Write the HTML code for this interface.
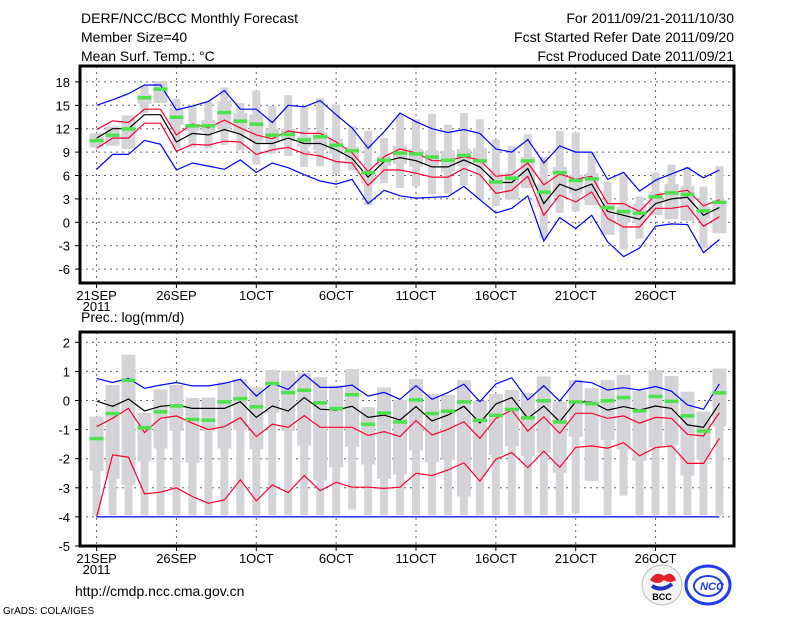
<!DOCTYPE html>
<html><head><meta charset="utf-8"><style>
body{margin:0;background:#fff}
svg{display:block}
text{font-family:"Liberation Sans",sans-serif;fill:#000}
</style></head><body>
<svg id="chart" width="800" height="618" viewBox="0 0 800 618">
<text x="81" y="23" font-size="14">DERF/NCC/BCC Monthly Forecast</text>
<text x="81" y="42" font-size="14">Member Size=40</text>
<text x="81" y="61" font-size="14">Mean Surf. Temp.: °C</text>
<text x="734" y="23" font-size="14" text-anchor="end">For 2011/09/21-2011/10/30</text>
<text x="734" y="42" font-size="14" text-anchor="end">Fcst Started Refer Date 2011/09/20</text>
<text x="734" y="61" font-size="14" text-anchor="end">Fcst Produced Date 2011/09/21</text>
<text x="81" y="322" font-size="14">Prec.: log(mm/d)</text>
<text x="75" y="596" font-size="14">http://cmdp.ncc.cma.gov.cn</text>
<text x="3" y="614" font-size="10">GrADS: COLA/IGES</text>
<g>
<circle cx="662" cy="585" r="20" fill="#f4f4f4" stroke="#bbb"/>
<path d="M650 580 q6 -10 14 -4 q8 -6 12 4 q-6 4 -12 0 q-6 6 -14 0z" fill="#e0202a"/>
<path d="M652 586 q10 6 20 -2" stroke="#2030c0" stroke-width="4" fill="none"/>
<text x="662" y="600" font-size="9" text-anchor="middle" font-weight="bold">BCC</text>
</g>
<g>
<ellipse cx="708" cy="585" rx="22" ry="19" fill="#fff" stroke="#1f3cf0" stroke-width="3"/>
<ellipse cx="708" cy="586" rx="14" ry="10" fill="none" stroke="#1f3cf0" stroke-width="2"/>
<text x="712" y="590" font-size="11" font-weight="bold" font-style="italic" text-anchor="middle" style="fill:#1f3cf0">NCC</text>
</g>
</svg>
<script>
const days = ["21SEP","26SEP","1OCT","6OCT","11OCT","16OCT","21OCT","26OCT"];
const tickDayIdx = [0,5,10,15,20,25,30,35];
const tTicks = [-6,-3,0,3,6,9,12,15,18];
const pTicks = [-5,-4,-3,-2,-1,0,1,2];
// Temperature panel
const tMax = [15.0,15.7,16.5,17.6,17.6,14.4,14.9,15.5,16.9,14.5,14.5,12.8,15.0,14.8,15.6,13.8,12.1,9.5,11.6,14.0,12.9,12.0,11.5,11.9,11.4,9.4,9.0,10.6,7.6,9.8,9.0,9.0,5.5,6.4,4.0,5.4,6.2,7.0,5.7,6.7];
const tUp = [11.9,13.0,12.8,14.5,14.5,11.2,12.6,12.1,13.1,12.1,11.2,10.7,11.7,11.4,11.4,10.3,8.9,6.5,8.4,9.4,8.9,7.9,7.9,8.4,8.0,5.9,6.1,7.6,4.8,6.2,5.5,5.9,2.4,2.4,1.4,3.5,3.8,4.1,2.1,2.9];
const tMean = [10.8,12.0,12.0,13.8,13.8,10.3,11.4,11.2,11.9,11.3,10.1,10.1,10.8,10.1,10.1,9.3,8.2,5.8,7.8,8.3,7.9,7.1,7.1,8.0,7.1,5.1,5.1,6.9,2.4,4.9,4.1,4.9,1.4,0.9,0.4,2.4,3.0,3.2,0.9,1.9];
const tLow = [9.5,10.8,10.8,12.7,12.7,9.1,10.0,9.9,10.4,10.3,8.7,9.3,9.6,8.8,8.5,7.8,7.6,4.7,6.7,6.7,6.3,5.8,5.8,6.9,6.1,3.7,4.1,5.9,0.9,3.5,2.6,3.9,0.5,-0.6,-0.6,1.8,1.8,2.1,-0.5,0.7];
const tMin = [6.8,8.7,8.7,10.5,10.0,6.7,7.6,7.2,6.8,8.0,6.4,7.6,7.0,6.1,5.3,4.9,5.5,2.4,4.1,3.4,3.1,3.2,3.3,4.6,2.9,1.2,1.8,3.4,-2.4,0.6,-0.8,0.9,-2.5,-4.4,-3.3,-0.5,-0.2,-0.3,-3.9,-2.2];
const tObs = [10.5,11.2,12.0,16.0,17.1,13.5,12.4,12.4,14.1,13.0,12.6,11.2,11.3,10.6,11.0,9.9,9.2,6.4,8.0,8.9,8.8,8.4,8.0,8.6,7.9,5.2,5.7,7.9,3.9,6.4,5.4,5.6,1.9,1.4,1.2,3.3,3.8,3.6,1.5,2.6];
const tBoxLo = [9.6,9.8,9.4,15.2,15.3,12.5,11.7,11.6,12.0,11.4,10.4,10.2,10.4,9.7,9.3,8.8,7.9,5.0,7.2,7.5,7.1,7.3,6.5,7.2,7.6,4.1,2.9,4.4,2.0,3.2,3.7,2.2,-1.6,0.0,-0.1,0.9,0.4,0.2,0.4,-1.4];
const tBoxHi = [11.4,12.3,13.7,16.4,18.1,14.7,12.6,13.1,15.6,14.0,13.8,12.0,12.0,11.0,11.5,10.7,9.7,6.4,8.5,9.8,9.4,9.2,9.2,9.4,9.5,6.3,6.4,8.4,5.0,7.1,6.1,6.3,2.4,2.0,2.4,3.9,4.9,4.6,2.0,2.4];
const tWLo = [9.6,9.8,9.4,14.0,15.3,9.5,9.6,9.5,9.9,9.2,7.4,8.8,8.5,7.1,7.2,6.2,6.7,2.2,5.0,4.4,4.6,3.6,3.7,4.7,2.9,2.1,2.9,4.4,-2.1,1.2,1.4,2.2,-1.6,-3.5,-2.1,0.9,0.4,0.2,-3.3,-1.4];
const tWHi = [11.4,12.3,13.7,17.5,18.1,15.8,15.0,15.5,17.3,15.3,16.9,14.9,16.3,14.7,15.9,15.1,12.3,11.7,10.8,13.8,13.2,13.9,12.5,14.0,13.2,10.6,9.8,11.3,8.4,11.7,11.5,9.0,5.2,6.1,3.3,6.4,7.4,7.1,4.6,7.2];
// Precipitation panel
const pMax = [0.76,0.62,0.76,0.42,0.53,0.62,0.5,0.5,0.59,0.73,0.15,0.59,0.38,0.9,0.45,0.45,0.53,0.15,0.28,0.04,0.51,0.04,0.27,0.56,-0.04,0.57,0.78,0.02,0.51,-0.02,0.67,0.61,0.36,0.44,0.36,0.48,0.32,-0.15,-0.3,0.57];
const pUp = [-0.9,-0.61,-0.27,-1.1,-0.61,-0.53,-0.78,-1.0,-0.9,-0.59,-1.24,-0.81,-0.92,-0.52,-0.92,-0.92,-0.92,-1.2,-1.07,-1.24,-0.69,-1.19,-0.99,-0.73,-1.3,-0.61,-0.33,-1.05,-0.56,-1.13,-0.44,-0.44,-0.61,-0.53,-0.78,-0.58,-0.61,-1.16,-1.22,-0.42];
const pMean = [-0.02,-0.2,0.05,-0.36,-0.2,-0.15,-0.27,-0.27,-0.27,-0.04,-0.58,-0.19,-0.36,0.1,-0.3,-0.33,-0.2,-0.58,-0.5,-0.67,-0.21,-0.7,-0.5,-0.2,-0.77,-0.12,0.1,-0.61,-0.19,-0.73,-0.04,-0.06,-0.33,-0.21,-0.33,-0.19,-0.27,-0.84,-0.92,-0.1];
const pLow = [-4.0,-1.87,-1.95,-3.21,-3.15,-3.0,-3.3,-3.53,-3.42,-2.73,-3.45,-2.9,-3.17,-2.58,-3.1,-2.81,-2.98,-2.98,-3.02,-2.98,-2.5,-2.58,-2.39,-2.14,-2.77,-2.02,-1.79,-2.31,-1.74,-2.3,-1.61,-1.56,-1.64,-1.45,-1.9,-1.62,-1.56,-2.16,-2.16,-1.3];
const pMin = [-4,-4,-4,-4,-4,-4,-4,-4,-4,-4,-4,-4,-4,-4,-4,-4,-4,-4,-4,-4,-4,-4,-4,-4,-4,-4,-4,-4,-4,-4,-4,-4,-4,-4,-4,-4,-4,-4,-4,-4];
const pObs = [-1.3,-0.44,0.7,-0.93,-0.38,-0.18,-0.64,-0.67,-0.04,0.07,-0.21,0.59,0.28,0.36,-0.07,-0.27,0.21,-0.81,-0.42,-0.73,0.03,-0.44,-0.36,-0.04,-0.67,-0.5,-0.3,-0.59,0.0,-0.73,-0.04,-0.1,0.0,0.11,-0.35,0.15,-0.02,-0.52,-1.04,0.27];
const pBoxLo = [-2.42,-2.7,-2.9,-2.1,-1.65,-1.05,-2.15,-1.05,-1.65,-1.0,-1.68,-0.43,-1.05,-1.55,-2.75,-2.3,-1.6,-2.2,-2.7,-2.55,-1.72,-2.12,-2.04,-3.3,-2.62,-1.87,-1.58,-1.9,-1.8,-2.48,-1.24,-2.76,-1.36,-1.68,-2.07,-1.61,-1.53,-2.58,-2.04,-0.9];
const pBoxHi = [-0.55,0.53,1.57,-0.43,0.38,0.53,0.08,0.1,0.62,0.73,0.45,1.05,1.02,0.95,0.8,0.52,1.08,-0.23,0.45,0.03,0.73,0.22,0.19,0.7,-0.02,0.22,0.36,0.25,0.82,-0.04,0.7,0.42,0.7,0.88,0.34,1.05,0.84,0.3,-0.38,1.1];
const pWLo = [-3.95,-3.95,-3.95,-3.95,-3.95,-3.95,-3.95,-3.95,-3.95,-3.95,-3.95,-3.95,-3.95,-3.95,-3.95,-3.95,-3.75,-3.95,-3.95,-3.95,-3.95,-3.95,-3.95,-3.95,-3.95,-3.95,-3.95,-3.95,-3.95,-3.95,-3.88,-2.76,-3.95,-3.27,-3.95,-3.95,-3.95,-3.95,-3.95,-3.95];

const NS="http://www.w3.org/2000/svg";
const svg=document.getElementById('chart');
const X0=80,X1=734;
const xDay=i=>96.6+15.97*i;
function mk(tag,attrs,parent){const e=document.createElementNS(NS,tag);for(const k in attrs)e.setAttribute(k,attrs[k]);(parent||svg).appendChild(e);return e;}

function panel(name,top,bot,yFn,ticks,series){
  const g=mk('g',{});
  
  
  ticks.forEach(t=>{const y=yFn(t);if(y>top+1&&y<bot-1){const l=mk('line',{x1:X0,x2:X1,y1:y,y2:y,stroke:'#666','stroke-dasharray':'2,4','stroke-width':1},g);
    
    }
    const tk=mk('line',{x1:X0-5,x2:X0,y1:y,y2:y,stroke:'#000'},g);
    
    
    const tx=mk('text',{x:X0-10,y:y+5,'font-size':13,'text-anchor':'end'},g);tx.textContent=t;
    
    
  });
  tickDayIdx.forEach((d,k)=>{const x=xDay(d);
    const l=mk('line',{x1:x,x2:x,y1:top,y2:bot,stroke:'#666','stroke-dasharray':'2,4'},g);
    
    
    const tk=mk('line',{x1:x,x2:x,y1:bot,y2:bot+5,stroke:'#000'},g);
    
    
    const tx=mk('text',{x:x,y:bot+17,'font-size':13,'text-anchor':'middle'},g);tx.textContent=days[k];
    
    
  });
  const yr=mk('text',{x:xDay(0),y:bot+28,'font-size':13,'text-anchor':'middle'},g);yr.textContent='2011';
  
  
  for(let i=0;i<40;i++){const x=xDay(i);
    if(series.wLo){const wh=series.wHi?series.wHi[i]:series.bHi[i];
      const w=mk('rect',{x:x-4,width:8,y:yFn(wh),height:Math.max(1,yFn(series.wLo[i])-yFn(wh)),fill:'#d4d4d8'},g);
      
      }
    const b=mk('rect',{x:x-7,width:14,y:yFn(series.bHi[i]),height:Math.max(1,yFn(series.bLo[i])-yFn(series.bHi[i])),fill:'#d4d4d8'},g);
    
    
  }
  const lines=[[series.max,'#0000ff','max-line'],[series.up,'#ff0033','upper-line'],[series.mean,'#000','mean-line'],[series.low,'#ff0033','lower-line'],[series.min,'#0000ff','min-line']];
  lines.forEach(([arr,c,n])=>{const p=mk('polyline',{points:arr.map((v,i)=>xDay(i).toFixed(1)+','+yFn(v).toFixed(1)).join(' '),fill:'none',stroke:c,'stroke-width':1.2},g);
    
    });
  series.obs.forEach((v,i)=>{const r=mk('rect',{x:xDay(i)-7,width:14,y:yFn(v)-1.5,height:3.5,fill:'#4de24d'},g);
    
    });
  const f=mk('rect',{x:X0,y:top,width:X1-X0,height:bot-top,fill:'none',stroke:'#000','stroke-width':3},g);
  
  
}
const yT=v=>222.3-7.8*v;
panel('temperature-panel',66,283,yT,tTicks,{max:tMax,up:tUp,mean:tMean,low:tLow,min:tMin,obs:tObs,bLo:tBoxLo,bHi:tBoxHi,wLo:tWLo,wHi:tWHi});
const yP=v=>400.5-29.1*v;
panel('precipitation-panel',332,546,yP,pTicks,{max:pMax,up:pUp,mean:pMean,low:pLow,min:pMin,obs:pObs,bLo:pBoxLo,bHi:pBoxHi,wLo:pWLo});
</script>
</body></html>
